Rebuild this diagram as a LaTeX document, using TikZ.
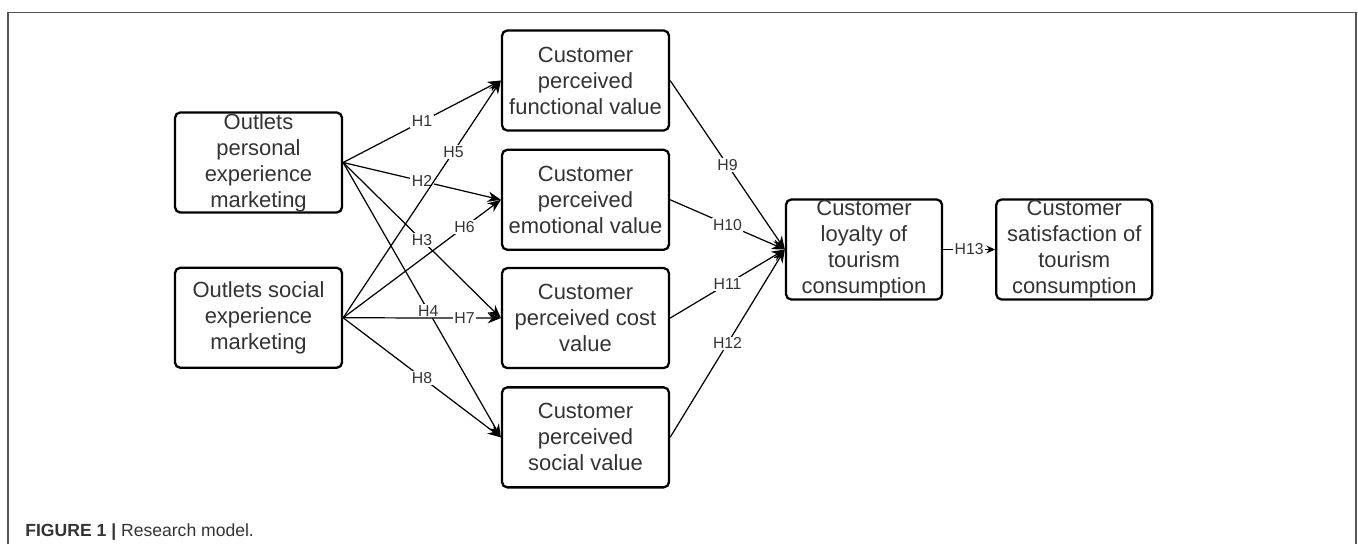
\documentclass[tikz,border=0pt]{standalone}
\usepackage{fontspec}
\setmainfont{Liberation Sans}
\usepackage{tikz}
\usetikzlibrary{positioning, arrows.meta}
\definecolor{textgray}{HTML}{333333}
\definecolor{framegray}{HTML}{555555}

\begin{document}
\begin{tikzpicture}[
  box/.style={draw, rounded corners=3pt, line width=1.3pt, align=center,
              minimum width=3.34cm, minimum height=2cm, inner xsep=1pt,
              inner ysep=0pt, text=textgray,
              font=\fontsize{12.5}{14.8}\selectfont},
  widebox/.style={box, minimum width=3.12cm},
  hyp/.style={fill=white, inner sep=0.8pt, text=textgray,
              font=\fontsize{9}{10}\selectfont},
  arrow/.style={-{Stealth[length=7.5pt, width=6pt]}, line width=0.7pt},
]
  \useasboundingbox (0,0) rectangle (27.16,-10.88);
  % Frame
  \draw[framegray, line width=0.8pt] (0.16,-10.88) -- (0.16,-0.25)
    -- (27.12,-0.25) -- (27.12,-10.88);
  % Experience marketing
  \node[box] (pers) at (5.17,-3.25) {Outlets\\personal\\experience\\marketing};
  \node[box, below=1.06cm of pers] (socx) {Outlets social\\experience\\marketing};
  % Perceived values
  \node[box] (func) at (11.71,-1.61) {Customer\\perceived\\functional value};
  \node[box, below=0.34cm of func] (emo) {Customer\\perceived\\emotional value};
  \node[box, below=0.32cm of emo] (cost) {Customer\\perceived cost\\value};
  \node[box, below=0.34cm of cost] (socv) {Customer\\perceived\\social value};
  % Loyalty and satisfaction
  \node[widebox] (loy) at (17.28,-4.99) {Customer\\loyalty of\\tourism\\consumption};
  \node[widebox, right=1.04cm of loy] (sat) {Customer\\satisfaction of\\tourism\\consumption};
  % Arrows
  \draw[arrow] (pers.east) -- node[hyp] {H1} (func.west);
  \draw[arrow] (pers.east) -- node[hyp] {H2} (emo.west);
  \draw[arrow] (pers.east) -- node[hyp] {H3} (cost.west);
  \draw[arrow] (pers.east) -- node[hyp, pos=0.54] {H4} (socv.west);
  \draw[arrow] (socx.east) -- node[hyp, pos=0.7] {H5} (func.west);
  \draw[arrow] (socx.east) -- node[hyp, pos=0.77] {H6} (emo.west);
  \draw[arrow] (socx.east) -- node[hyp, pos=0.77] {H7} (cost.west);
  \draw[arrow] (socx.east) -- node[hyp] {H8} (socv.west);
  \draw[arrow] (func.east) -- node[hyp] {H9} (loy.west);
  \draw[arrow] (emo.east) -- node[hyp] {H10} (loy.west);
  \draw[arrow] (cost.east) -- node[hyp] {H11} (loy.west);
  \draw[arrow] (socv.east) -- node[hyp] {H12} (loy.west);
  \draw[-{Stealth[length=5pt, width=4.5pt]}, line width=0.7pt]
    (loy.east) -- node[hyp] {H13} (sat.west);
  % Caption
  \node[anchor=base west, inner sep=0pt, text=textgray,
        font=\fontsize{10}{12}\selectfont] (cap) at (0.5,-10.72)
    {\textbf{FIGURE 1 |} Research model.};
\end{tikzpicture}
\end{document}
